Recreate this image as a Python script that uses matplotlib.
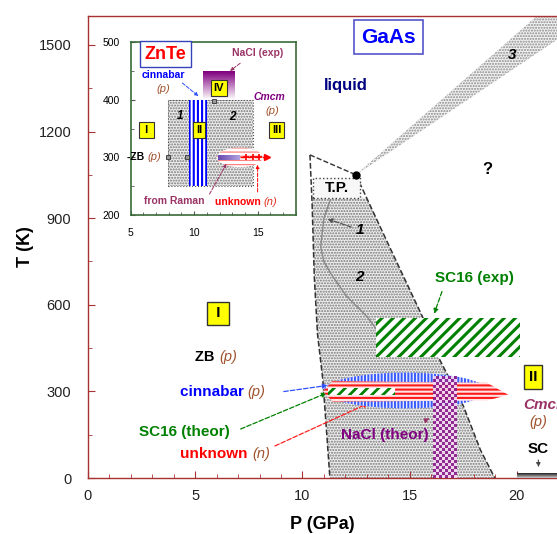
import numpy as np
import matplotlib
matplotlib.use("Agg")
import matplotlib.pyplot as plt
from matplotlib.patches import Polygon, Rectangle, Ellipse
from matplotlib.colors import LinearSegmentedColormap

plt.rcParams['font.family'] = ['Liberation Sans', 'DejaVu Sans']
plt.rcParams['hatch.linewidth'] = 1.0

# ---------------- données (GPa, K) ----------------
P_lim = (0, 21.87)
T_lim = (0, 1600)
x_ticks = [0, 5, 10, 15, 20]
y_ticks = [0, 300, 600, 900, 1200, 1500]

# frontières de la région grisée
left_P = [10.35, 10.45, 10.55, 10.7, 10.95, 11.28]
left_T = [1119, 950, 700, 500, 340, 0]
right_P = [12.49, 14.0, 15.6, 16.4, 17.5, 18.3, 18.97]
right_T = [1050, 810, 558, 410, 250, 97, 0]
# frontière 1/2 (courbe grise)
curve_P = [11.3, 11.0, 10.85, 11.0, 11.3, 12.05, 13.0, 13.45]
curve_T = [963, 900, 800, 750, 710, 630, 560, 515]
tp_P, tp_T = 12.49, 1050
tp_box = (10.5, 970, 12.68, 1039)   # P0, T0, P1, T1
# bande 3 (fusion)
wedge_P = [12.49, 20.93, 23.0, 23.0]
wedge_T = [1050, 1600, 1600, 1574]
# SC16 (exp)
sc16_exp = (13.43, 419, 20.14, 554)
# cinnabar (bleu), unknown (rouge), SC16 theor (vert), NaCl theor (violet)
cinn_center, cinn_w, cinn_h = (14.8, 303), 7.6, 124
unk_P = [10.95, 11.4, 18.6, 19.6, 18.6, 11.4]
unk_T = [300, 335, 330, 288, 268, 265]
sc16_th = (11.2, 288, 14.3, 312)
nacl_th = (16.1, 0, 17.2, 350)
sc_bar = (20.0, 0, 23.0, 15)

# encart ZnTe
in_P_lim = (5, 18)
in_T_lim = (200, 500)
in_x_ticks = [5, 10, 15]
in_y_ticks = [200, 300, 400, 500]
in_gray = (7.9, 250, 14.6, 400)
in_cinn = (9.63, 250, 11.04, 400)
in_iv = (10.7, 400, 13.2, 450)
in_unk_center, in_unk_w, in_unk_h = (13.6, 300), 3.6, 34
in_raman = (11.9, 296, 13.6, 304)
in_unk_arrow_P = [13.6, 15.7]
in_unk_plus_P = [14.1, 14.6, 15.1]
in_marks_P = [7.97, 9.43, 11.56]
in_marks_T = [300, 300, 398]

red = '#a83232'
brown = '#a0522d'
purple = '#800080'
mauve = '#993366'
green = '#008000'

fig = plt.figure(figsize=(5.57, 5.34), dpi=100)
ax = fig.add_axes([88/557, 56/534, 1 - 88/557, 462/534])
ax.set_xlim(*P_lim)
ax.set_ylim(*T_lim)

# région grisée (1 + 2)
Tcut = tp_box[1]
lp_top = np.interp(Tcut, left_T[::-1], left_P[::-1])
rp_top = np.interp(Tcut, right_T[::-1], right_P[::-1])
poly = [(lp_top, Tcut)]
poly += [(p, t) for p, t in zip(left_P, left_T) if t < Tcut]
poly += [(p, t) for p, t in zip(right_P[::-1], right_T[::-1]) if t < Tcut]
poly += [(rp_top, Tcut)]
ax.add_patch(Polygon(poly, closed=True, fc='#eeeeee', ec='#777777', lw=0,
                     hatch='......', zorder=1))
ax.plot(left_P, left_T, ls='--', color='#333333', lw=1.1, zorder=3)
ax.plot(right_P, right_T, ls='--', color='#333333', lw=1.1, zorder=3)
ax.plot([left_P[0], tp_P], [left_T[0], tp_T], ls='--', color='#333333', lw=1.0, zorder=3)
ax.plot(curve_P, curve_T, color='#888888', lw=1.0, zorder=3)

# boîte T.P.
ax.add_patch(Rectangle((tp_box[0], tp_box[1]), tp_box[2] - tp_box[0], tp_box[3] - tp_box[1],
                       fc='#f7f7f7', ec='#444444', lw=1.0, ls=':', zorder=3))
ax.text((tp_box[0] + tp_box[2]) / 2, (tp_box[1] + tp_box[3]) / 2, 'T.P.', ha='center',
        va='center', fontsize=11, fontweight='bold', zorder=4)
ax.plot([tp_P], [tp_T], 'o', color='black', ms=5, zorder=5)

# bande 3
ax.add_patch(Polygon(list(zip(wedge_P, wedge_T)), closed=True, fc='#f2f2f2', ec='#8a8a8a',
                     lw=0, hatch='......', zorder=1))
ax.text(19.8, 1465, '3', fontsize=11, fontweight='bold', style='italic', ha='center', va='center')

# SC16 exp
plt.rcParams['hatch.linewidth'] = 2.2
ax.add_patch(Rectangle((sc16_exp[0], sc16_exp[1]), sc16_exp[2] - sc16_exp[0],
                       sc16_exp[3] - sc16_exp[1], fc='white', ec=green, lw=0,
                       hatch='///', zorder=4))

# cinnabar / unknown / SC16 theor
plt.rcParams['hatch.linewidth'] = 1.4
ax.add_patch(Ellipse(cinn_center, cinn_w, cinn_h, fc='#e8ecff', ec='#3a5cff', lw=0,
                     hatch='|||||', zorder=5))
plt.rcParams['hatch.linewidth'] = 1.5
ax.add_patch(Polygon(list(zip(unk_P, unk_T)), closed=True, fc='#ffe4e4', ec='#ff1a1a', lw=0,
                     hatch='----', zorder=6))
plt.rcParams['hatch.linewidth'] = 2.0
ax.add_patch(Rectangle((sc16_th[0], sc16_th[1]), sc16_th[2] - sc16_th[0],
                       sc16_th[3] - sc16_th[1], fc='white', ec=green, lw=0,
                       hatch='///', zorder=7))

# NaCl theor (damier)
ncols, nrows = 8, 34
checker = (np.add.outer(np.arange(nrows), np.arange(ncols)) % 2).astype(float)
cm_check = LinearSegmentedColormap.from_list('chk', ['#f4d8f4', '#8b1a8b'])
ax.imshow(checker, extent=(nacl_th[0], nacl_th[2], nacl_th[1], nacl_th[3]), cmap=cm_check,
          interpolation='nearest', aspect='auto', alpha=0.9, zorder=8)

# SC barre
grad = np.linspace(1, 0, 20).reshape(-1, 1)
cm_gray = LinearSegmentedColormap.from_list('g', ['#cccccc', '#222222'])
ax.imshow(grad, extent=(sc_bar[0], sc_bar[2], sc_bar[1], sc_bar[3]), cmap=cm_gray,
          aspect='auto', zorder=8)
ax.set_xlim(*P_lim)
ax.set_ylim(*T_lim)

# textes principaux
ax.text(14.0, 1527, 'GaAs', ha='center', va='center', fontsize=15, fontweight='bold',
        color='#0000ff', bbox=dict(boxstyle='square,pad=0.35', fc='white', ec='#5555cc', lw=1.2))
ax.text(12.0, 1360, 'liquid', ha='center', va='center', fontsize=12, fontweight='bold',
        color='#000080')
ax.text(18.6, 1067, '?', ha='center', va='center', fontsize=12, fontweight='bold')
ax.text(12.68, 859, '1', ha='center', va='center', fontsize=11, fontweight='bold', style='italic')
ax.annotate('', xy=(11.05, 900), xytext=(12.4, 866),
            arrowprops=dict(arrowstyle='-|>', ls='--', lw=0.9, color='#555555', mutation_scale=7))
ax.text(12.68, 696, '2', ha='center', va='center', fontsize=11, fontweight='bold', style='italic')

ax.text(18.04, 693, 'SC16 (exp)', ha='center', va='center', fontsize=11, fontweight='bold',
        color=green)
ax.annotate('', xy=(16.1, 560), xytext=(16.55, 655),
            arrowprops=dict(arrowstyle='-|>', ls='--', lw=0.9, color=green, mutation_scale=7))

ybox = dict(boxstyle='square,pad=0.3', fc='#ffff00', ec='#333333', lw=1)
ax.text(6.06, 571, ' I ', ha='center', va='center', fontsize=11, fontweight='bold', bbox=ybox)
ax.text(20.75, 350, 'II', ha='center', va='center', fontsize=11, fontweight='bold', bbox=ybox)

ax.text(6.1, 419, 'ZB ', ha='right', va='center', fontsize=10.5, fontweight='bold')
ax.text(6.1, 419, '(p)', ha='left', va='center', fontsize=10.5, style='italic', color=brown)
ax.text(7.45, 298, 'cinnabar ', ha='right', va='center', fontsize=11, fontweight='bold',
        color='#0000ff')
ax.text(7.45, 298, '(p)', ha='left', va='center', fontsize=10.5, style='italic', color=brown)
ax.annotate('', xy=(11.3, 322), xytext=(9.0, 298),
            arrowprops=dict(arrowstyle='-|>', ls='--', lw=0.9, color='#3050ff', mutation_scale=7))
ax.text(4.5, 159, 'SC16 (theor)', ha='center', va='center', fontsize=11, fontweight='bold',
        color=green)
ax.annotate('', xy=(11.25, 298), xytext=(7.0, 166),
            arrowprops=dict(arrowstyle='-|>', ls='--', lw=0.9, color=green, mutation_scale=7))
ax.text(7.65, 83, 'unknown ', ha='right', va='center', fontsize=11, fontweight='bold',
        color='#ff0000')
ax.text(7.65, 83, '(n)', ha='left', va='center', fontsize=10.5, style='italic', color=brown)
ax.annotate('', xy=(13.2, 263), xytext=(8.6, 107),
            arrowprops=dict(arrowstyle='-|>', ls='--', lw=0.9, color='#ff2020', mutation_scale=7))

ax.text(13.85, 149, 'NaCl (theor)', ha='center', va='center', fontsize=11, fontweight='bold',
        color=purple, zorder=9)
ax.annotate('', xy=(16.05, 210), xytext=(15.6, 195),
            arrowprops=dict(arrowstyle='-|>', ls='--', lw=0.9, color=mauve, mutation_scale=7))

ax.text(20.3, 253, 'Cmcm', ha='left', va='center', fontsize=11, fontweight='bold',
        style='italic', color=mauve, zorder=9)
ax.text(21.0, 194, '(p)', ha='center', va='center', fontsize=10.5, style='italic', color=brown)
ax.text(21.0, 100, 'SC', ha='center', va='center', fontsize=11, fontweight='bold')
ax.annotate('', xy=(21.0, 28), xytext=(21.0, 72),
            arrowprops=dict(arrowstyle='-|>', ls='--', lw=0.8, color='#444444', mutation_scale=6))

# axes
for s in ['left', 'bottom', 'top']:
    ax.spines[s].set_color(red)
    ax.spines[s].set_linewidth(1.0)
ax.spines['right'].set_visible(False)
ax.set_xticks(x_ticks)
ax.set_yticks(y_ticks)
ax.set_xticks(np.arange(0, 22, 1), minor=True)
ax.set_yticks(np.arange(0, 1600, 150), minor=True)
ax.tick_params(which='both', direction='in', color=red, top=False, right=False)
ax.tick_params(which='major', length=5, labelsize=10.5, labelcolor='#222222')
ax.tick_params(which='minor', length=3)
ax.tick_params(axis='x', pad=8)
ax.tick_params(axis='y', pad=12)
ax.set_xlabel('P (GPa)', fontsize=13, fontweight='bold', labelpad=9)
ax.set_ylabel('T (K)', fontsize=13, fontweight='bold', labelpad=3)

# ---------------- encart ZnTe ----------------
ins = fig.add_axes([130.7/557, (534-215)/534, 165/557, 173/534])
ins.set_xlim(*in_P_lim)
ins.set_ylim(*in_T_lim)
plt.rcParams['hatch.linewidth'] = 1.0
ins.add_patch(Rectangle((in_gray[0], in_gray[1]), in_gray[2] - in_gray[0], in_gray[3] - in_gray[1],
                        fc='#eeeeee', ec='#777777', lw=0, hatch='......', zorder=1))
ins.add_patch(Rectangle((in_gray[0], in_gray[1]), in_gray[2] - in_gray[0], in_gray[3] - in_gray[1],
                        fc='none', ec='#555555', lw=0.8, ls=':', zorder=2))
plt.rcParams['hatch.linewidth'] = 1.5
ins.add_patch(Rectangle((in_cinn[0], in_cinn[1]), in_cinn[2] - in_cinn[0], in_cinn[3] - in_cinn[1],
                        fc='white', ec='#0000ff', lw=0, hatch='||||', zorder=3))
grad_iv = np.linspace(1, 0, 30).reshape(-1, 1)
cm_iv = LinearSegmentedColormap.from_list('iv', ['#ffffff', '#800080'])
ins.imshow(grad_iv, extent=(in_iv[0], in_iv[2], in_iv[1], in_iv[3]), cmap=cm_iv,
           aspect='auto', zorder=2, vmin=0, vmax=1)
plt.rcParams['hatch.linewidth'] = 0.9
ins.add_patch(Ellipse(in_unk_center, in_unk_w, in_unk_h, fc='white', ec='#ff8080', lw=0,
                      hatch='----', zorder=3))
grad_r = np.linspace(0, 1, 30).reshape(1, -1)
cm_r = LinearSegmentedColormap.from_list('r', ['#6a4ab0', '#b0a0e0'])
ins.imshow(grad_r, extent=(in_raman[0], in_raman[2], in_raman[1], in_raman[3]), cmap=cm_r,
           aspect='auto', zorder=4)
ins.plot(in_unk_arrow_P, [300, 300], ls='--', color='#ff0000', lw=1.0, zorder=5)
ins.plot(in_unk_plus_P, [300] * len(in_unk_plus_P), '+', color='#ff0000', ms=5, mew=1.2, zorder=5)
ins.plot([in_unk_arrow_P[1]], [300], '>', color='#ff0000', ms=4, zorder=5)
ins.plot(in_marks_P, in_marks_T, 's', mfc='#999999', mec='#333333', ms=3, mew=0.6, zorder=6)
ins.set_xlim(*in_P_lim)
ins.set_ylim(*in_T_lim)

ins.text(7.75, 479, 'ZnTe', ha='center', va='center', fontsize=13, fontweight='bold',
         color='#ff0000', zorder=7,
         bbox=dict(boxstyle='square,pad=0.25', fc='white', ec='#3344bb', lw=1.0))
ins.text(7.6, 442, 'cinnabar', ha='center', va='center', fontsize=7.5, fontweight='bold',
         color='#0000ff', zorder=7)
ins.text(7.6, 418, '(p)', ha='center', va='center', fontsize=8, style='italic', color=brown, zorder=7)
ins.annotate('', xy=(10.5, 403), xytext=(8.9, 432),
             arrowprops=dict(arrowstyle='-|>', ls='--', lw=0.7, color='#3050ff', mutation_scale=5),
             zorder=7)
ins.text(15.0, 481, 'NaCl (exp)', ha='center', va='center', fontsize=7.5, fontweight='bold',
         color=mauve, zorder=7)
ins.annotate('', xy=(12.65, 447), xytext=(13.8, 466),
             arrowprops=dict(arrowstyle='-|>', ls='--', lw=0.7, color=mauve, mutation_scale=5),
             zorder=7)
ins.text(15.9, 405, 'Cmcm', ha='center', va='center', fontsize=7.5, fontweight='bold',
         style='italic', color=purple, zorder=7)
ins.text(16.2, 381, '(p)', ha='center', va='center', fontsize=8, style='italic', color=brown, zorder=7)
ins.text(8.9, 372, '1', ha='center', va='center', fontsize=8.5, fontweight='bold', style='italic', zorder=7)
ins.text(13.0, 370, '2', ha='center', va='center', fontsize=8.5, fontweight='bold', style='italic', zorder=7)
ybox_s = dict(boxstyle='square,pad=0.25', fc='#ffff00', ec='#333333', lw=0.8)
ins.text(6.25, 347, ' I ', ha='center', va='center', fontsize=8, fontweight='bold', bbox=ybox_s, zorder=7)
ins.text(10.4, 347, 'II', ha='center', va='center', fontsize=8, fontweight='bold', bbox=ybox_s, zorder=7)
ins.text(16.5, 347, 'III', ha='center', va='center', fontsize=8, fontweight='bold', bbox=ybox_s, zorder=7)
ins.text(11.95, 420, 'IV', ha='center', va='center', fontsize=8, fontweight='bold', bbox=ybox_s, zorder=7)
ins.text(6.3, 300, '-ZB ', ha='right', va='center', fontsize=7.5, fontweight='bold', zorder=7)
ins.text(6.3, 300, '(p)', ha='left', va='center', fontsize=8, style='italic', color=brown, zorder=7)
ins.text(8.4, 225, 'from Raman', ha='center', va='center', fontsize=7.5, fontweight='bold',
         color=mauve, zorder=7)
ins.annotate('', xy=(12.65, 293), xytext=(11.1, 232),
             arrowprops=dict(arrowstyle='-|>', ls='--', lw=0.7, color=mauve, mutation_scale=5),
             zorder=7)
ins.text(15.45, 222, 'unknown ', ha='right', va='center', fontsize=7.5, fontweight='bold',
         color='#ff0000', zorder=7)
ins.text(15.45, 222, '(n)', ha='left', va='center', fontsize=8, style='italic', color='#e03020', zorder=7)
ins.annotate('', xy=(15.0, 292), xytext=(15.0, 235),
             arrowprops=dict(arrowstyle='-|>', ls='--', lw=0.7, color='#ff0000', mutation_scale=5),
             zorder=7)

for s in ins.spines.values():
    s.set_color('#3a6b3a')
    s.set_linewidth(1.2)
ins.set_xticks(in_x_ticks)
ins.set_yticks(in_y_ticks)
ins.set_xticks(np.arange(5, 18.5, 1), minor=True)
ins.set_yticks(np.arange(200, 501, 50), minor=True)
ins.tick_params(which='both', direction='in', color='#555555', labelsize=7.5)
ins.tick_params(which='major', length=3)
ins.tick_params(which='minor', length=2)
ins.tick_params(axis='x', pad=9)
ins.tick_params(axis='y', pad=8)

fig.savefig('out.png', dpi=100)
